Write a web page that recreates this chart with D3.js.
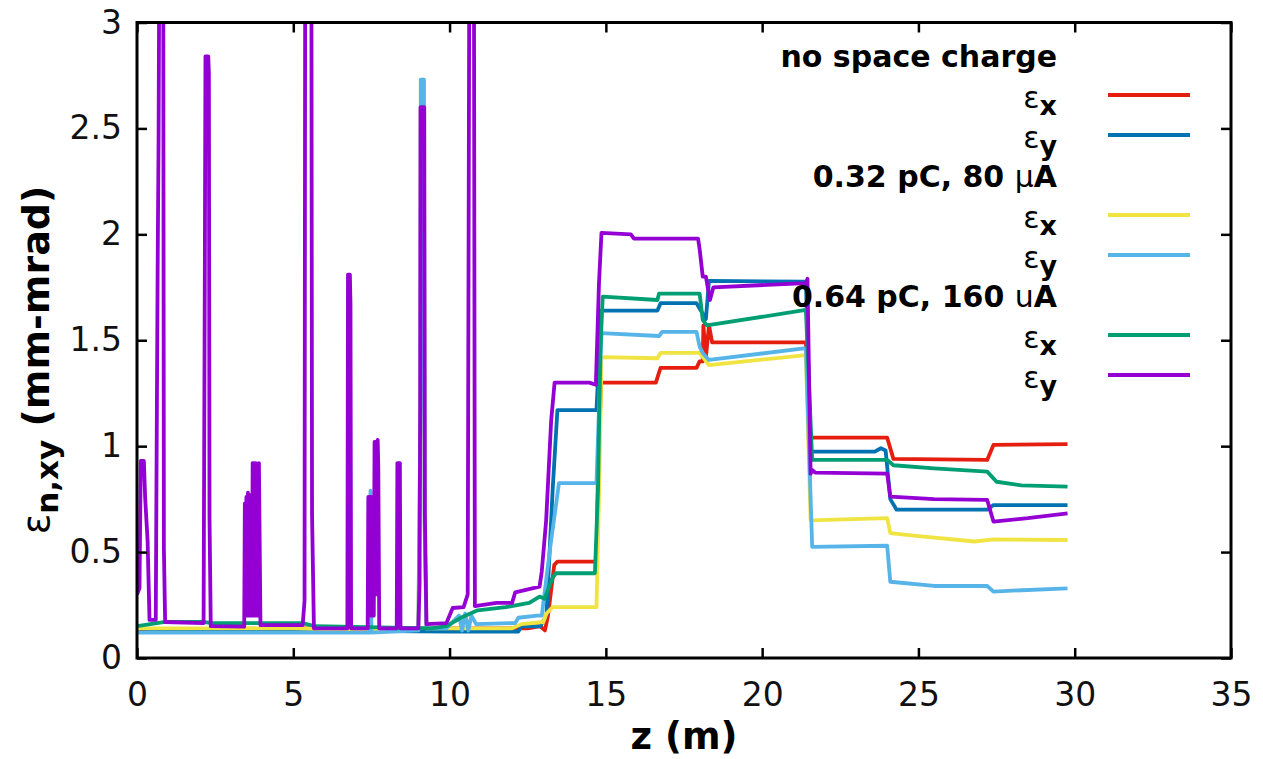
<!DOCTYPE html>
<html>
<head>
<meta charset="utf-8">
<script src="https://cdn.jsdelivr.net/npm/d3@7"></script>
<style>
  body { margin: 0; background: #fff; }
  text { font-family: "DejaVu Sans", Verdana, sans-serif; }
</style>
</head>
<body>
<div class="canvas"></div>
<script>
// series data: [z (m), emittance (mm-mrad)]
const noScX = [[0,0.13],[0.4,0.135],[2,0.135],[5,0.14],[9,0.14],[12.5,0.14],[12.9,0.15],[13.05,0.13],[13.15,0.2],[13.35,0.44],[13.45,0.455],[14.7,0.455],[14.75,0.9],[14.85,1.3],[16.6,1.3],[16.75,1.37],[17.9,1.37],[18.0,1.4],[18.1,1.4],[18.12,1.57],[18.2,1.42],[18.3,1.57],[18.4,1.49],[21.4,1.49],[21.55,1.04],[24.0,1.04],[24.2,0.94],[27.2,0.935],[27.4,1.006],[29.77,1.01]];
const noScY = [[0,0.14],[1,0.13],[5,0.13],[10,0.125],[12.2,0.125],[12.3,0.15],[12.9,0.15],[13.1,0.2],[13.3,0.8],[13.45,1.17],[14.7,1.17],[14.85,1.64],[16.65,1.64],[16.75,1.675],[17.9,1.675],[18.0,1.65],[18.2,1.6],[18.3,1.78],[21.4,1.777],[21.55,0.974],[23.6,0.974],[23.8,0.99],[23.95,0.98],[24.1,0.75],[24.3,0.7],[27.2,0.7],[27.4,0.722],[29.77,0.722]];
const q032X = [[0,0.14],[5,0.14],[7.4,0.13],[9.0,0.14],[9.07,1.2],[9.08,2.73],[9.18,2.73],[9.2,0.65],[9.26,0.14],[12.0,0.14],[12.3,0.16],[13.0,0.17],[13.1,0.21],[13.3,0.24],[14.7,0.24],[14.8,0.9],[14.86,1.42],[16.65,1.415],[16.75,1.44],[18.0,1.44],[18.3,1.383],[21.4,1.43],[21.55,0.65],[24.0,0.66],[24.1,0.59],[25,0.575],[26.8,0.55],[27.4,0.56],[29.77,0.557]];
const q032Y = [[0,0.12],[5,0.12],[7.45,0.12],[7.47,0.79],[7.5,0.12],[9.0,0.13],[9.07,1.2],[9.08,2.73],[9.18,2.73],[9.2,0.65],[9.26,0.14],[9.9,0.14],[10.3,0.2],[10.4,0.13],[10.5,0.21],[10.6,0.13],[10.7,0.2],[10.85,0.16],[12.1,0.165],[12.2,0.19],[12.8,0.2],[12.95,0.2],[13.2,0.5],[13.5,0.826],[14.7,0.826],[14.86,1.534],[16.7,1.52],[16.8,1.54],[17.9,1.54],[18.0,1.47],[18.1,1.44],[18.3,1.407],[21.4,1.463],[21.6,0.525],[24.0,0.53],[24.1,0.36],[25.5,0.34],[27.2,0.34],[27.4,0.313],[28,0.318],[29.77,0.329]];
const q064X = [[0,0.15],[0.9,0.17],[2.1,0.171],[2.4,0.165],[5.3,0.165],[5.7,0.15],[9.4,0.14],[9.9,0.15],[10.43,0.195],[10.9,0.225],[11.8,0.24],[12.55,0.26],[12.88,0.29],[13.04,0.28],[13.3,0.38],[13.4,0.4],[14.65,0.4],[14.75,0.8],[14.82,1.44],[14.9,1.706],[16.65,1.69],[16.7,1.72],[18.0,1.72],[18.1,1.596],[18.23,1.57],[21.4,1.643],[21.6,0.935],[24.0,0.935],[24.2,0.91],[25.5,0.895],[27.2,0.88],[27.5,0.832],[28.3,0.815],[29.77,0.809]];
const q064Y = [[0,0.3],[0.08,0.33],[0.12,0.93],[0.22,0.93],[0.26,0.76],[0.34,0.55],[0.4,0.18],[0.6,0.18],[0.66,1.83],[0.69,2.44],[0.71,3.2],[0.84,3.2],[0.86,0.52],[0.9,0.17],[2.13,0.165],[2.17,1.83],[2.19,2.84],[2.28,2.84],[2.3,2.76],[2.32,0.66],[2.36,0.15],
  [3.43,0.148],[3.45,0.73],[3.475,0.2],[3.5,0.76],[3.525,0.2],[3.55,0.78],[3.575,0.2],[3.6,0.77],[3.625,0.2],[3.65,0.72],[3.675,0.2],[3.7,0.92],[3.725,0.2],[3.75,0.92],[3.775,0.2],[3.8,0.92],[3.825,0.2],[3.85,0.9],[3.875,0.2],[3.9,0.92],[3.92,0.62],[3.95,0.155],
  [5.3,0.155],[5.36,0.27],[5.38,3.2],[5.58,3.2],[5.6,0.68],[5.66,0.14],[6.73,0.14],[6.75,1.81],[6.81,1.81],[6.83,1.67],[6.85,0.14],
  [7.38,0.14],[7.4,0.76],[7.425,0.2],[7.45,0.76],[7.475,0.2],[7.5,0.76],[7.525,0.2],[7.55,0.74],[7.575,0.2],[7.6,1.02],[7.625,0.3],[7.65,1.02],[7.675,0.3],[7.7,1.03],[7.72,0.9],[7.75,0.14],
  [8.31,0.14],[8.33,0.92],[8.41,0.92],[8.43,0.14],[9.0,0.14],[9.04,0.35],[9.06,1.22],[9.07,2.6],[9.19,2.6],[9.21,0.68],[9.26,0.16],[9.9,0.165],[10.1,0.236],[10.45,0.24],[10.58,0.3],[10.63,3.2],[10.78,3.2],[10.81,0.245],[11.5,0.26],[12.0,0.26],[12.1,0.31],[12.88,0.337],[12.95,0.41],[13.09,0.65],[13.25,1.12],[13.36,1.3],[14.47,1.3],[14.68,1.29],[14.78,1.77],[14.86,2.007],[15.8,2.0],[15.9,1.98],[17.95,1.98],[18.0,1.93],[18.1,1.8],[18.2,1.8],[18.33,1.69],[18.44,1.75],[21.4,1.77],[21.45,1.79],[21.55,0.87],[21.6,0.888],[21.7,0.875],[24.0,0.87],[24.1,0.762],[25.5,0.75],[27.2,0.746],[27.4,0.644],[28.5,0.66],[29.77,0.683]];

// legend groups and series labels
const groupNames = ['no space charge', '0.32 pC, 80 ', '0.64 pC, 160 '];
const groupUnits = ['', 'μ', 'u'];
const seriesSubs = ['x', 'y', 'x', 'y', 'x', 'y'];
const colors = ['#e51e10', '#0072b2', '#f0e442', '#56b4e9', '#009e73', '#9400d3'];
const series = [noScX, noScY, q032X, q032Y, q064X, q064Y];

// ticks
const xTicks = [0, 5, 10, 15, 20, 25, 30, 35];
const yTicks = [0, 0.5, 1, 1.5, 2, 2.5, 3];

const dims = {height: 759, width: 1263};
const margin = {top: 22.5, right: 32, bottom: 101, left: 137};
const w = dims.width - margin.left - margin.right;
const h = dims.height - margin.top - margin.bottom;

const svg = d3.select('.canvas')
.append('svg')
.attr('width', dims.width)
.attr('height', dims.height);

const graph = svg.append('g')
.attr('transform', `translate(${margin.left}, ${margin.top})`);

//scales
const x = d3.scaleLinear().domain([0, 35]).range([0, w]);
const y = d3.scaleLinear().domain([0, 3]).range([h, 0]);

//clip for lines leaving the plot
svg.append('defs').append('clipPath')
.attr('id', 'plot-clip')
.append('rect')
.attr('width', w)
.attr('height', h);

//lines
const line = d3.line()
.x(d => x(d[0]))
.y(d => y(d[1]));

graph.append('g')
.attr('clip-path', 'url(#plot-clip)')
.selectAll('.line')
.data(series)
.enter()
.append('path')
.attr('class', 'line')
.attr('fill', 'none')
.attr('stroke', (d, i) => colors[i])
.attr('stroke-width', 3.8)
.attr('stroke-linejoin', 'round')
.attr('d', line);

//axes, ticks pointing inwards on all sides
const fmt = d => String(d);

graph.append('g')
.attr('transform', `translate(0, ${h})`)
.call(d3.axisBottom(x).tickValues(xTicks).tickFormat(fmt).tickSize(-10).tickSizeOuter(0).tickPadding(25));

graph.append('g')
.call(d3.axisLeft(y).tickValues(yTicks).tickFormat(fmt).tickSize(-10).tickSizeOuter(0).tickPadding(15));

graph.append('g')
.call(d3.axisTop(x).tickValues(xTicks).tickFormat('').tickSize(-10).tickSizeOuter(0));

graph.append('g')
.attr('transform', `translate(${w}, 0)`)
.call(d3.axisRight(y).tickValues(yTicks).tickFormat('').tickSize(-10).tickSizeOuter(0));

graph.selectAll('.domain').remove();
graph.selectAll('.tick line').attr('stroke', '#000').attr('stroke-width', 2.5);
graph.selectAll('.tick text')
.attr('fill', '#111')
.style('font-size', '33px');

//frame
graph.append('rect')
.attr('width', w)
.attr('height', h)
.attr('fill', 'none')
.attr('stroke', '#000')
.attr('stroke-width', 3);

//axis titles
svg.append('text')
.attr('x', margin.left + x(17.5))
.attr('y', 749)
.attr('text-anchor', 'middle')
.style('font-size', '37px')
.style('font-weight', 'bold')
.text('z (m)');

const yTitle = svg.append('text')
.attr('transform', 'translate(49, 360) rotate(-90)')
.attr('text-anchor', 'middle')
.style('font-size', '38px');
yTitle.append('tspan').text('ε');
yTitle.append('tspan').attr('dy', 9).style('font-weight', 'bold').style('font-size', '31px').text('n,xy');
yTitle.append('tspan').attr('dy', -9).style('font-weight', 'bold').text(' (mm-mrad)');

//legend
const legendRight = 1057;
const rowY = i => 55 + i * 40;

const legend = svg.append('g');

groupNames.forEach((name, g) => {
  const t = legend.append('text')
  .attr('x', legendRight)
  .attr('y', rowY(g * 3) + 11.5)
  .attr('text-anchor', 'end')
  .style('font-size', '30px')
  .style('font-weight', 'bold');
  t.append('tspan').text(name);
  if (groupUnits[g]) {
    t.append('tspan').style('font-weight', 'normal').text(groupUnits[g]);
    t.append('tspan').text('A');
  }
});

seriesSubs.forEach((sub, i) => {
  const row = Math.floor(i / 2) * 3 + 1 + (i % 2);
  const t = legend.append('text')
  .attr('x', legendRight)
  .attr('y', rowY(row) + 13)
  .attr('text-anchor', 'end')
  .style('font-size', '30px');
  t.append('tspan').text('ε');
  t.append('tspan').attr('dy', 7).style('font-weight', 'bold').style('font-size', '27px').text(sub);

  legend.append('line')
  .attr('x1', 1108)
  .attr('x2', 1190)
  .attr('y1', rowY(row))
  .attr('y2', rowY(row))
  .attr('stroke', colors[i])
  .attr('stroke-width', 3.8);
});
</script>
</body>
</html>
